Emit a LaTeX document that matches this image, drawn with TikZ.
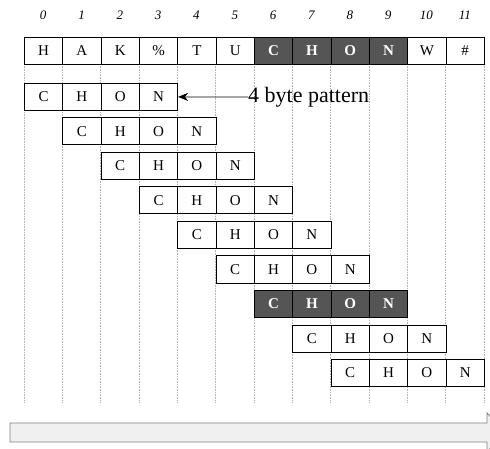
\documentclass[tikz,border=0pt]{standalone}
\usepackage{fontspec}
\setmainfont{Liberation Serif}
\usetikzlibrary{arrows.meta}
\definecolor{darkcell}{HTML}{555555}
\definecolor{barfill}{HTML}{F0F0F0}
\begin{document}
\begin{tikzpicture}[x=1pt,y=-1pt,
  cell/.style={draw=black,line width=0.8pt,fill=white,minimum width=38.33pt,minimum height=27pt,inner sep=0pt,font=\fontsize{15}{15}\selectfont,anchor=north west},
  darkbox/.style={cell,fill=darkcell,text=white,font=\fontsize{15}{15}\selectfont\bfseries},
  colnum/.style={font=\fontsize{13}{13}\selectfont\itshape,inner sep=0pt},
  guide/.style={gray!60,densely dotted,line width=0.6pt},
  label/.style={font=\fontsize{22}{22}\selectfont,inner sep=0pt,anchor=west}]
\useasboundingbox (0,0) rectangle (490,449);
\begin{scope}
\clip (0,0) rectangle (490,449);
% guides
\foreach \i in {0,...,12}{
  \draw[guide] ({24+38.33*\i},64) -- ({24+38.33*\i},403);
}
% column numbers
\foreach \i in {0,...,11}{
  \node[colnum] (n\i) at ({24+38.33*\i+19.17},15) {\i};
}
% top row
\foreach \i/\t in {0/H,1/A,2/K,3/\%,4/T,5/U,10/W,11/\#}{
  \node[cell] (t\i) at ({24+38.33*\i},37) {\t};
}
\foreach \i/\t in {6/C,7/H,8/O,9/N}{
  \node[darkbox] (t\i) at ({24+38.33*\i},37) {\t};
}
% pattern rows
\foreach \k in {0,1,2,3,4,5,7,8}{
  \foreach \j/\t in {0/C,1/H,2/O,3/N}{
    \node[cell] (r\k c\j) at ({24+38.33*(\k+\j)},{83+34.5*\k}) {\t};
  }
}
\foreach \j/\t in {0/C,1/H,2/O,3/N}{
  \node[darkbox] (r6c\j) at ({24+38.33*(6+\j)},{83+34.5*6}) {\t};
}
% label and arrow
\node[label] (lab) at (248,97) {4 byte pattern};
\draw[line width=0.8pt,-{Stealth[length=10pt,width=8pt]}] (lab.west) -- (r0c3.east);
% bottom bar
\draw[gray,fill=barfill,line width=0.8pt] (10,423) -- (487,423) -- (487,413) -- (505,432.5) -- (487,452) -- (487,442) -- (10,442) -- cycle;
\end{scope}
\end{tikzpicture}
\end{document}
